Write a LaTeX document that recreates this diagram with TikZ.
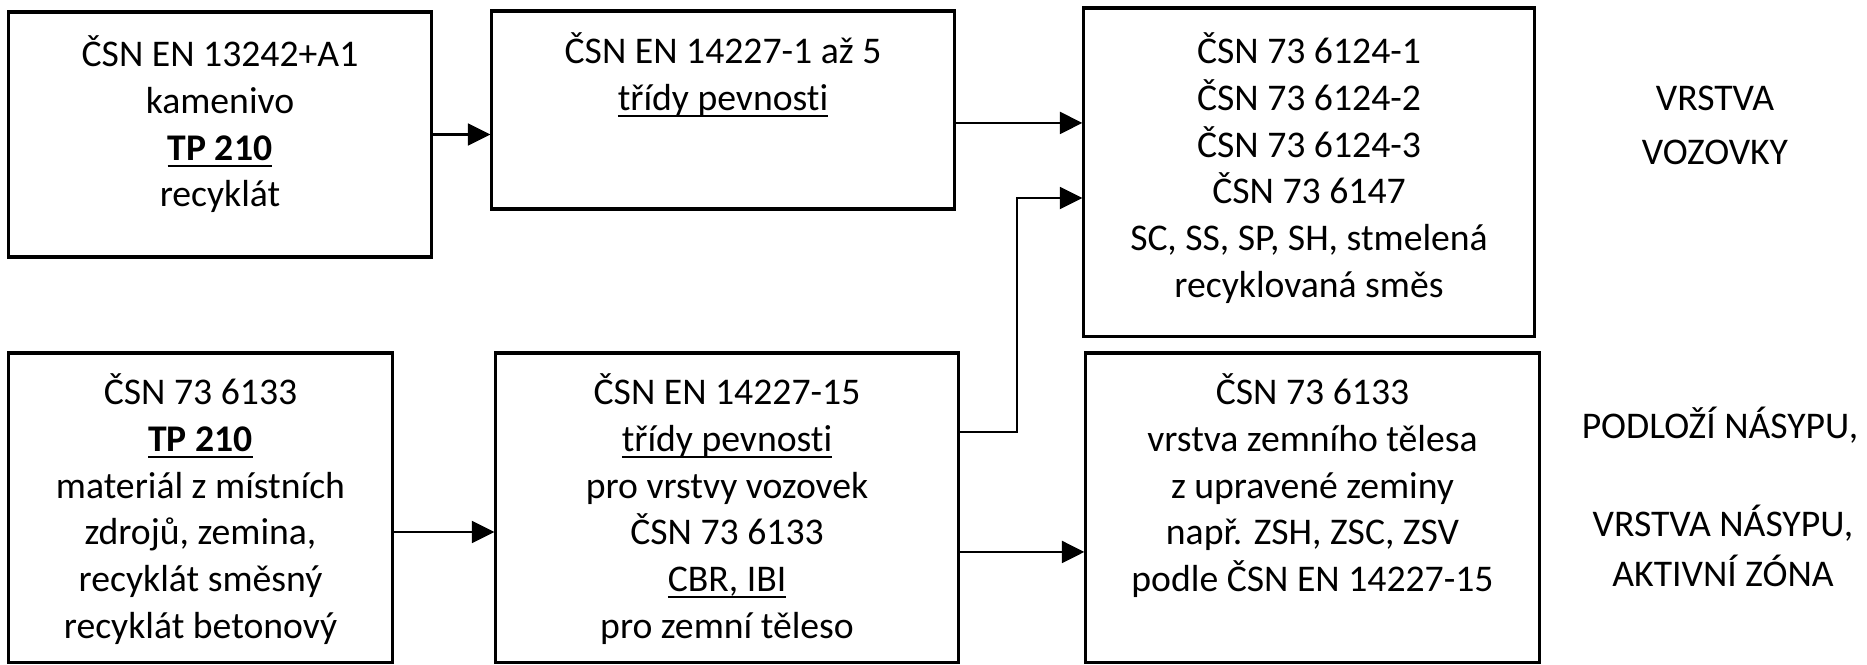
\documentclass[tikz,border=0pt]{standalone}
\usepackage{fontspec}
\setmainfont{Carlito}[Ligatures=CommonOff]
\usetikzlibrary{arrows.meta,calc}
\newcommand{\topstrut}{\rule{0pt}{10pt}}
\newcommand{\ulin}[1]{\setbox0=\hbox{#1}\rlap{\rule[-2.3pt]{\wd0}{0.65pt}}\box0}
\tikzset{
	normbox/.style={draw, line width=1.1pt, inner sep=0pt},
	boxtext/.style={anchor=north, align=center, inner sep=0pt,
			font=\fontsize{13.4}{16.6}\selectfont},
	sidetext/.style={anchor=north, align=center, inner sep=0pt},
	arr/.style={line width=0.75pt, -{Triangle[length=8pt, width=7.8pt]}}
}

\begin{document}
\begin{tikzpicture}[x=0.0125cm, y=-0.0125cm]

	\useasboundingbox (0,0) rectangle (1867,664);

	% Upper row
	\node[normbox, minimum width=5.275cm, minimum height=3.0625cm] (b1) at (220,134.5) {};
	\node[normbox, minimum width=5.775cm, minimum height=2.475cm] (b2) at (723,110) {};
	\node[normbox, minimum width=5.625cm, minimum height=4.1cm] (b3) at (1309,172) {};

	% Lower row
	\node[normbox, minimum width=4.7875cm, minimum height=3.8625cm] (b4) at (200.5,507.5) {};
	\node[normbox, minimum width=5.775cm, minimum height=3.8625cm] (b5) at (727,507.5) {};
	\node[normbox, minimum width=5.6625cm, minimum height=3.8625cm] (b6) at (1312.5,507.5) {};

	% Texts in the boxes
	\node[boxtext] (t1) at ([yshift=-8.85pt]b1.north) {\topstrut ČSN EN 13242+A1\\ kamenivo\\ \ulin{\textbf{TP 210}}\\ recyklát};
	\node[boxtext] (t2) at ([yshift=-8.15pt]b2.north) {\topstrut ČSN EN 14227-1 až 5\\ \ulin{třídy pevnosti}};
	\node[boxtext] (t3) at ([yshift=-9.2pt]b3.north) {\topstrut ČSN 73 6124-1\\ ČSN 73 6124-2\\ ČSN 73 6124-3\\ ČSN 73 6147\\ SC, SS, SP, SH, stmelená\\ recyklovaná směs};
	\node[boxtext] (t4) at ([yshift=-7.8pt]b4.north) {\topstrut ČSN 73 6133\\ \ulin{\textbf{TP 210}}\\ materiál z místních\\ zdrojů, zemina,\\ recyklát směsný\\ recyklát betonový};
	\node[boxtext] (t5) at ([yshift=-7.8pt]b5.north) {\topstrut ČSN EN 14227-15\\ \ulin{třídy pevnosti}\\ pro vrstvy vozovek\\ ČSN 73 6133\\ \ulin{CBR, IBI}\\ pro zemní těleso};
	\node[boxtext] (t6) at ([yshift=-7.8pt]b6.north) {\topstrut ČSN 73 6133\\ vrstva zemního tělesa\\ z upravené zeminy\\ např. ZSH, ZSC, ZSV\\ podle ČSN EN 14227-15};

	% Labels on the right
	\node[sidetext, font=\fontsize{13.4}{19.2}\selectfont] (lab1) at (1715,82) {\topstrut VRSTVA\\ VOZOVKY};
	\node[sidetext, font=\fontsize{13.4}{18.1}\selectfont] (lab2) at (1720,406) {\topstrut PODLOŽÍ NÁSYPU,};
	\node[sidetext, font=\fontsize{13.4}{18.1}\selectfont] (lab3) at (1723,504) {\topstrut VRSTVA NÁSYPU,\\ AKTIVNÍ ZÓNA};

	% Arrows
	\draw[arr] (b1.east) -- (b1.east -| b2.west);
	\draw[arr] ([yshift=-4.6pt]b2.east) -- ([yshift=-4.6pt]b2.east -| b3.west);
	\draw[arr] ([yshift=-8.7pt]b4.east) -- ([yshift=-8.7pt]b4.east -| b5.west);
	\draw[arr] ([yshift=-15.8pt]b5.east) -- ([yshift=-15.8pt]b5.east -| b6.west);
	\draw[arr] ([yshift=26.85pt]b5.east) -- ++(20.3pt,0) |- ([yshift=-9.25pt]b3.west);

\end{tikzpicture}
\end{document}
